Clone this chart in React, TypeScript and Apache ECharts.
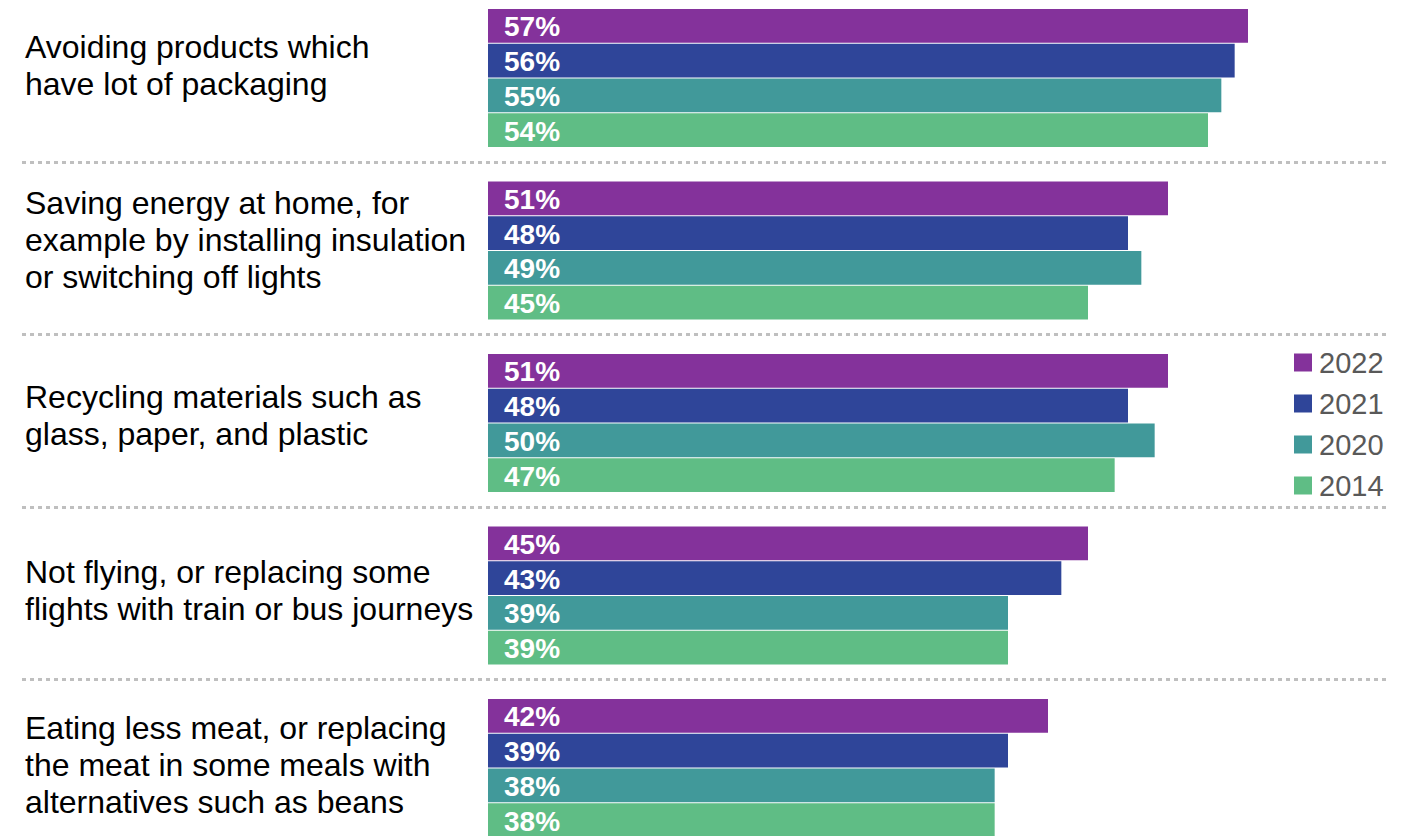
import React, { useEffect, useRef } from "react";
import * as echarts from "echarts";

const categories = [
  "Avoiding products which\nhave lot of packaging",
  "Saving energy at home, for\nexample by installing insulation\nor switching off lights",
  "Recycling materials such as\nglass, paper, and plastic",
  "Not flying, or replacing some\nflights with train or bus journeys",
  "Eating less meat, or replacing\nthe meat in some meals with\nalternatives such as beans",
];
const years = ["2022", "2021", "2020", "2014"];
const values2022 = [57, 51, 51, 45, 42];
const values2021 = [56, 48, 48, 43, 39];
const values2020 = [55, 49, 50, 39, 38];
const values2014 = [54, 45, 47, 39, 38];
const colors = ["#84329B", "#2F4599", "#41999A", "#5FBD85"];

const FONT = "'Liberation Sans', Arial, Helvetica, sans-serif";

export default function App() {
  const ref = useRef<HTMLDivElement>(null);
  useEffect(() => {
    if (!ref.current) return;
    const chart = echarts.init(ref.current, undefined, { renderer: "svg" });
    const seriesValues = [values2022, values2021, values2020, values2014];
    const top = -8.25;
    const height = 862.5;
    chart.setOption({
      animation: false,
      textStyle: { fontFamily: FONT },
      legend: {
        orient: "vertical",
        left: 1294,
        top: 348,
        padding: 0,
        itemWidth: 18,
        itemHeight: 18,
        itemGap: 12,
        icon: "rect",
        data: years,
        textStyle: { fontSize: 29, color: "#595959", fontFamily: FONT, lineHeight: 29, padding: [0, 0, 0, 2] },
      },
      grid: [
        { left: 22, right: 21, top: top - 2.5, height: height, outerBoundsMode: "none", containLabel: false },
        { left: 488, width: 800, top: top, height: height, outerBoundsMode: "none", containLabel: false },
        { left: 488, width: 800, top: -22.5, height: 875, outerBoundsMode: "none", containLabel: false },
      ],
      xAxis: [
        { type: "value", gridIndex: 0, show: false, min: 0, max: 60 },
        { type: "value", gridIndex: 1, show: false, min: 0, max: 60 },
        { type: "value", gridIndex: 2, show: false, min: 0, max: 60 },
      ],
      yAxis: [
        {
          type: "category",
          gridIndex: 0,
          inverse: true,
          data: categories,
          axisLine: { show: false },
          axisTick: { show: false },
          axisLabel: { show: false },
          splitLine: {
            show: true,
            interval: 0,
            lineStyle: { color: "#BFBFBF", width: 3, type: [4, 4] },
          },
        },
        {
          type: "category",
          gridIndex: 1,
          inverse: true,
          data: categories,
          axisLine: { show: false },
          axisTick: { show: false },
          splitLine: { show: false },
          axisLabel: { show: false },
        },
        {
          type: "category",
          gridIndex: 2,
          inverse: true,
          data: categories,
          axisLine: { show: false },
          axisTick: { show: false },
          splitLine: { show: false },
          axisLabel: {
            interval: 0,
            align: "left",
            margin: 463,
            fontSize: 32,
            lineHeight: 37,
            color: "#000000",
            fontFamily: FONT,
          },
        },
      ],
      series: years.map((y, i) => ({
        name: y,
        type: "bar",
        xAxisIndex: 1,
        yAxisIndex: 1,
        data: seriesValues[i],
        barCategoryGap: "20%",
        barGap: "3%",
        itemStyle: { color: colors[i] },
        label: {
          show: true,
          position: "insideLeft",
          offset: [11, 1],
          formatter: "{c}%",
          color: "#FFFFFF",
          fontWeight: "bold",
          fontSize: 28,
          lineHeight: 28,
          fontFamily: FONT,
        },
      })),
    });
    return () => chart.dispose();
  }, []);
  return (
    <div
      ref={ref}
      style={{ position: "fixed", left: 0, top: 0, width: 1411, height: 836, background: "#fff" }}
    />
  );
}
